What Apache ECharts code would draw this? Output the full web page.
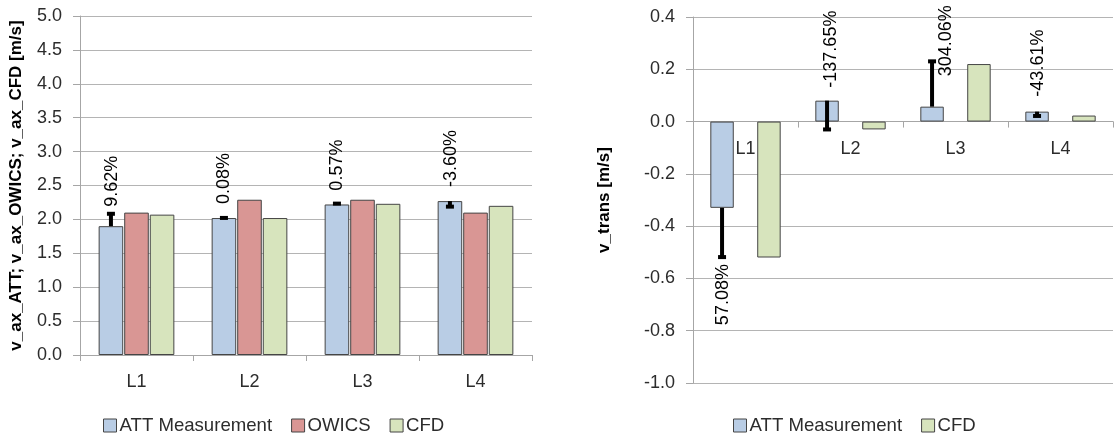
<!DOCTYPE html>
<html>
<head>
<meta charset="utf-8">
<script src="https://cdn.jsdelivr.net/npm/echarts@6/dist/echarts.min.js"></script>
<style>
  html, body { margin: 0; padding: 0; background: #fff; }
  #chart { width: 1116px; height: 436px; }
</style>
</head>
<body>
<div id="chart"></div>
<script>
// Measuring locations
const categories = ['L1', 'L2', 'L3', 'L4'];

// Axial velocity [m/s]
const axAtt   = [1.90, 2.02, 2.22, 2.27];
const axOwics = [2.10, 2.29, 2.29, 2.10];
const axCfd   = [2.07, 2.02, 2.23, 2.20];
const axDevPct = [9.62, 0.08, 0.57, -3.60];

// Transverse velocity [m/s]
const trAtt   = [-0.33, 0.08, 0.057, 0.038];
const trCfd   = [-0.52, -0.03, 0.22, 0.023];
const trDevPct = [57.08, -137.65, 304.06, -43.61];

// Value axis ranges
const axRange = { min: 0, max: 5, interval: 0.5 };
const trRange = { min: -1, max: 0.4, interval: 0.2 };

// Label placement tweaks (px): gap from the outer end of bar / error bar, sideways shift
const axLabelGap = [7, 14, 13, 14];
const axLabelShift = [1, 0.5, 0, 1.5];
const trLabelGap = [7, 13, -15, 15];
const trLabelShift = [1, 4, 14, 1];

const FONT = '"Liberation Sans", Arial, sans-serif';
const COLORS = { att: '#B9CDE5', owics: '#D99694', cfd: '#D7E4BD' };
const BORDER = '#454545';
const GRID_COLOR = '#B4B4B4';
const AXIS_COLOR = '#A6A6A6';
const TEXT_COLOR = '#2c2c2c';

const CHART_H = 436;
const gridAx = { left: 80, right: 584, top: 16, bottom: 81 };
const gridTr = { left: 693, right: 3, top: 17, bottom: 53 };

// Error bar runs from the measured value to value * (1 + deviation)
function errorRows(att, pct) {
  return att.map((v, i) => [i, v, v * (1 + pct[i] / 100), pct[i].toFixed(2) + '%']);
}

function makeErrorRenderer(barCount, catGap, barGap, gaps, shifts) {
  return function (params, api) {
    const i = api.value(0);
    const v = api.value(1);
    const e = api.value(2);
    const text = api.value(3);
    const c0 = api.coord([0, 0])[0];
    const c1 = api.coord([1, 0])[0];
    const band = Math.abs(c1 - c0);
    const w = band * (1 - catGap) / (barCount + (barCount - 1) * barGap);
    const x = api.coord([i, 0])[0] - band / 2 + band * catGap / 2 + w / 2;
    const yv = api.coord([i, v])[1];
    const ye = api.coord([i, e])[1];
    const lw = 4, capW = 8, capH = 4;
    const children = [
      { type: 'rect', shape: { x: x - lw / 2, y: Math.min(yv, ye), width: lw, height: Math.abs(ye - yv) },
        style: { fill: '#000' } },
      { type: 'rect', shape: { x: x - capW / 2, y: ye - capH / 2, width: capW, height: capH },
        style: { fill: '#000' } }
    ];
    const up = v >= 0;
    const anchor = up ? Math.min(yv, ye) - gaps[i] : Math.max(yv, ye) + gaps[i];
    children.push({
      type: 'text',
      x: x + shifts[i],
      y: anchor,
      rotation: Math.PI / 2,
      style: {
        text: text,
        fill: '#000',
        font: '18px ' + FONT,
        align: up ? 'left' : 'right',
        verticalAlign: 'middle'
      }
    });
    return { type: 'group', children: children };
  };
}

const barStyle = (color) => ({ color: color, borderColor: BORDER, borderWidth: 1 });

function valueAxis(gridIndex, range, name, nameGap) {
  return {
    type: 'value',
    gridIndex: gridIndex,
    min: range.min,
    max: range.max,
    interval: range.interval,
    name: name,
    nameLocation: 'middle',
    nameGap: nameGap,
    nameTextStyle: { fontFamily: FONT, fontSize: 17, fontWeight: 'bold', color: '#000' },
    axisLine: { show: true, lineStyle: { color: AXIS_COLOR, width: 1 } },
    axisTick: { show: true, length: 7, lineStyle: { color: AXIS_COLOR } },
    axisLabel: { fontFamily: FONT, fontSize: 18, color: TEXT_COLOR, margin: 18,
      formatter: (v) => v.toFixed(1) },
    splitLine: { show: true, lineStyle: { color: GRID_COLOR, width: 1 } }
  };
}

// Category axis drawn along the zero line of its value axis
function catAxis(gridIndex, grid, range) {
  const plotH = CHART_H - grid.top - grid.bottom;
  const zeroUp = plotH * (0 - range.min) / (range.max - range.min);
  return {
    type: 'category',
    gridIndex: gridIndex,
    data: categories,
    position: 'bottom',
    offset: -zeroUp,
    axisLine: { show: true, onZero: false, lineStyle: { color: AXIS_COLOR, width: 1 } },
    axisTick: { show: true, length: 6, lineStyle: { color: AXIS_COLOR } },
    axisLabel: { fontFamily: FONT, fontSize: 18, color: TEXT_COLOR, margin: 18 },
    splitLine: { show: false }
  };
}

const legendBase = {
  orient: 'horizontal',
  top: 416,
  padding: 0,
  itemWidth: 13,
  itemHeight: 13,
  itemGap: 19,
  icon: 'rect',
  itemStyle: { borderColor: BORDER, borderWidth: 1 },
  textStyle: { fontFamily: FONT, fontSize: 18.6, color: TEXT_COLOR, padding: [0, 0, 0, -2] }
};

const chart = echarts.init(document.getElementById('chart'), null, { renderer: 'canvas' });

chart.setOption({
  animation: false,
  backgroundColor: '#fff',
  grid: [gridAx, gridTr],
  xAxis: [catAxis(0, gridAx, axRange), catAxis(1, gridTr, trRange)],
  yAxis: [
    valueAxis(0, axRange, 'v_ax_ATT; v_ax_OWICS; v_ax_CFD [m/s]', 55),
    valueAxis(1, trRange, 'v_trans [m/s]', 80)
  ],
  legend: [
    Object.assign({}, legendBase, { left: 103, data: ['ATT Measurement', 'OWICS', 'CFD'] }),
    Object.assign({}, legendBase, { left: 733, data: ['ATT Measurement', 'CFD'] })
  ],
  series: [
    { name: 'ATT Measurement', type: 'bar', xAxisIndex: 0, yAxisIndex: 0, data: axAtt,
      itemStyle: barStyle(COLORS.att), barCategoryGap: '33%', barGap: '4%' },
    { name: 'OWICS', type: 'bar', xAxisIndex: 0, yAxisIndex: 0, data: axOwics,
      itemStyle: barStyle(COLORS.owics), barCategoryGap: '33%', barGap: '4%' },
    { name: 'CFD', type: 'bar', xAxisIndex: 0, yAxisIndex: 0, data: axCfd,
      itemStyle: barStyle(COLORS.cfd), barCategoryGap: '33%', barGap: '4%' },
    { name: 'axial deviation', type: 'custom', xAxisIndex: 0, yAxisIndex: 0, z: 5,
      data: errorRows(axAtt, axDevPct),
      renderItem: makeErrorRenderer(3, 0.33, 0.04, axLabelGap, axLabelShift) },

    { name: 'ATT Measurement', type: 'bar', xAxisIndex: 1, yAxisIndex: 1, data: trAtt,
      itemStyle: barStyle(COLORS.att), barCategoryGap: '33%', barGap: '100%' },
    { name: 'CFD', type: 'bar', xAxisIndex: 1, yAxisIndex: 1, data: trCfd,
      itemStyle: barStyle(COLORS.cfd), barCategoryGap: '33%', barGap: '100%' },
    { name: 'transverse deviation', type: 'custom', xAxisIndex: 1, yAxisIndex: 1, z: 5,
      data: errorRows(trAtt, trDevPct),
      renderItem: makeErrorRenderer(2, 0.33, 1.0, trLabelGap, trLabelShift) }
  ]
});
</script>
</body>
</html>
